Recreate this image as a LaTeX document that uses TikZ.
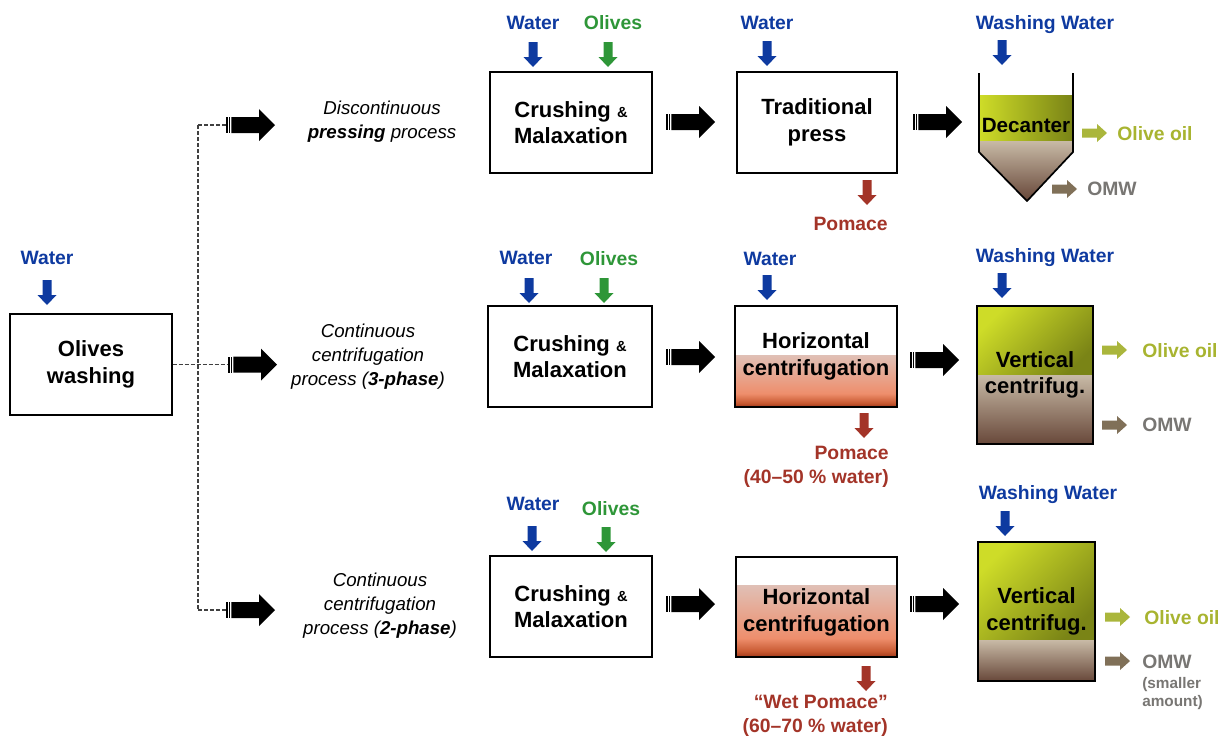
\documentclass[tikz,border=0pt]{standalone}
\usepackage{fontspec}
\setmainfont{Liberation Sans}
\usetikzlibrary{calc}
\definecolor{wblue}{RGB}{14,58,160}
\definecolor{ogreen}{RGB}{46,150,56}
\definecolor{pred}{RGB}{163,52,40}
\definecolor{oiltxt}{RGB}{168,180,48}
\definecolor{oilarr}{RGB}{170,182,60}
\definecolor{omwtxt}{RGB}{120,118,115}
\definecolor{omwarr}{RGB}{128,112,88}
\definecolor{oliveL}{RGB}{206,220,40}
\definecolor{oliveD}{RGB}{122,132,22}
\definecolor{brownL}{RGB}{200,186,166}
\definecolor{brownM}{RGB}{150,122,108}
\definecolor{brownD}{RGB}{104,72,58}
\definecolor{hcT}{RGB}{224,192,182}
\definecolor{hcM}{RGB}{238,142,108}
\definecolor{hcN}{RGB}{200,90,50}
\definecolor{hcB}{RGB}{160,56,26}
\pgfdeclareverticalshading{hcshade}{100bp}{color(0bp)=(hcB); color(25bp)=(hcB); color(29bp)=(hcN); color(38bp)=(hcM); color(75bp)=(hcT); color(100bp)=(hcT)}
\tikzset{
  lbl/.style={font=\fontsize{14.5}{17}\selectfont\bfseries, inner sep=0pt},
  proc/.style={font=\fontsize{14}{18}\selectfont\itshape, align=center, inner sep=0pt},
  box/.style={draw=black, line width=1pt, align=center, inner sep=0pt, font=\fontsize{16.5}{20}\selectfont\bfseries},
  boxA/.style={box, minimum width=121.5pt, minimum height=75.75pt},
  dashline/.style={draw=black!75, line width=0.8pt, dash pattern=on 3pt off 1.5pt},
  pomtxt/.style={font=\fontsize{14.5}{18}\selectfont\bfseries, text=pred, align=right, inner sep=0pt},
  dnarrow/.pic={\fill[pic actions] (-4.5,0) -- (4.5,0) -- (4.5,15) -- (9.5,15) -- (0,25) -- (-9.5,15) -- (-4.5,15) -- cycle;},
  rtarrow/.pic={\fill[pic actions] (0,-4.5) -- (15,-4.5) -- (15,-9) -- (25,0) -- (15,9) -- (15,4.5) -- (0,4.5) -- cycle;},
  bigarrow/.pic={\fill (0,-8) rectangle (1.5,8); \fill (2.7,-8) rectangle (4.2,8);
     \fill (5.4,-8) -- (33,-8) -- (33,-16) -- (49,0) -- (33,16) -- (33,8) -- (5.4,8) -- cycle;}
}
\newcommand\amp{{\fontsize{11}{12}\selectfont\&}}
\begin{document}
\begin{tikzpicture}[x=0.75pt,y=-0.75pt]
\useasboundingbox (0,0) rectangle (1227,740);

% ---------- shaded fills ----------
\shade[left color=oliveL,right color=oliveD] (980,95) rectangle (1072,141);
\shade[top color=brownL,bottom color=brownD] (980,141) -- (1072,141) -- (1072,152) -- (1027,200) -- (980,152) -- cycle;
\shade[shading=hcshade] (735,355) rectangle (897,407);
\shade[shading=hcshade] (736,585) rectangle (897,657);
\shade[top color=oliveL,bottom color=oliveD,shading angle=45] (977,306) rectangle (1093,375);
\shade[top color=brownL,middle color=brownM,bottom color=brownD] (977,375) rectangle (1093,444);
\shade[top color=oliveL,bottom color=oliveD,shading angle=45] (978,542) rectangle (1095,640);
\shade[top color=brownL,bottom color=brownD] (978,640) rectangle (1095,681);

% ---------- left part ----------
\node[lbl, text=wblue] (w0) at (47,258) {Water};
\pic[fill=wblue] at (47,280) {dnarrow};
\node[boxA] (ow) at (91,364.5) {Olives\\washing};
\coordinate (split) at (198,364.5);
\coordinate (a1) at (226,125);
\coordinate (a2) at (228,364.5);
\coordinate (a3) at (226,610);
\draw[dashline] (ow.east) -- (a2);
\draw[dashline] (split |- a1) -- (split |- a3);
\draw[dashline] (split |- a1) -- (a1);
\draw[dashline] (split |- a3) -- (a3);
\pic at (a1) {bigarrow};
\pic at (a2) {bigarrow};
\pic at (a3) {bigarrow};

\node[proc] (p1) at (382,122) {Discontinuous\\\textbf{pressing} process};
\node[proc] (p2) at (368,357) {Continuous\\centrifugation\\process (\textbf{3-phase})};
\node[proc] (p3) at (380,606) {Continuous\\centrifugation\\process (\textbf{2-phase})};

% ---------- row 1 ----------
\node[lbl, text=wblue] (w1) at (533,23) {Water};
\node[lbl, text=ogreen] (o1) at (613,23) {Olives};
\pic[fill=wblue] at (533,42) {dnarrow};
\pic[fill=ogreen] at (608,42) {dnarrow};
\node[boxA] (cm1) at (571,122.5) {Crushing \amp\\Malaxation};
\pic at (666,122) {bigarrow};
\node[lbl, text=wblue] (w1b) at (767,23) {Water};
\pic[fill=wblue] at (767,41) {dnarrow};
\node[box, minimum width=120pt, minimum height=75.75pt] (tp) at (817,122.5) {Traditional\\press};
\pic[fill=pred] at (867,180) {dnarrow};
\node[pomtxt, anchor=east] (pom1) at (888,224) {Pomace};
\pic at (913,122) {bigarrow};
\node[lbl, text=wblue] (ww1) at (1045,25) {Washing Water};
\pic[fill=wblue] at (1002,40) {dnarrow};
\draw[line width=1.3pt, line join=round] (979,73) -- (979,152) -- (1027,201) -- (1073,152) -- (1073,73);
\node[font=\fontsize{15.5}{18}\selectfont\bfseries, inner sep=0pt] (dec) at (1026,125) {Decanter};
\pic[fill=oilarr] at (1082,133) {rtarrow};
\node[lbl, text=oiltxt] (oil1) at (1155,134) {Olive oil};
\pic[fill=omwarr] at (1052,189) {rtarrow};
\node[lbl, text=omwtxt] (omw1) at (1112,189) {OMW};

% ---------- row 2 ----------
\node[lbl, text=wblue] (w2) at (526,258) {Water};
\node[lbl, text=ogreen] (o2) at (609,259) {Olives};
\pic[fill=wblue] at (529,278) {dnarrow};
\pic[fill=ogreen] at (604,278) {dnarrow};
\node[box, minimum width=123pt, minimum height=75.75pt] (cm2) at (570,356.5) {Crushing \amp\\Malaxation};
\pic at (666,357) {bigarrow};
\node[lbl, text=wblue] (w2b) at (770,259) {Water};
\pic[fill=wblue] at (767,275) {dnarrow};
\node[boxA] (hc2) at (816,356.5) {Horizontal\\centrifugation};
\pic[fill=pred] at (864,413) {dnarrow};
\node[pomtxt, anchor=east] (pom2) at (889,467) {Pomace\\(40--50 \% water)};
\pic at (910,360) {bigarrow};
\node[lbl, text=wblue] (ww2) at (1045,258) {Washing Water};
\pic[fill=wblue] at (1002,273) {dnarrow};
\node[box, minimum width=87pt, minimum height=103.5pt] (vc2) at (1035,375) {Vertical\\centrifug.};
\pic[fill=oilarr] at (1102,350) {rtarrow};
\node[lbl, text=oiltxt] (oil2) at (1180,351) {Olive oil};
\pic[fill=omwarr] at (1102,425) {rtarrow};
\node[lbl, text=omwtxt] (omw2) at (1167,425) {OMW};

% ---------- row 3 ----------
\node[lbl, text=wblue] (w3) at (533,504) {Water};
\node[lbl, text=ogreen] (o3) at (611,509) {Olives};
\pic[fill=wblue] at (532,526) {dnarrow};
\pic[fill=ogreen] at (606,527) {dnarrow};
\node[boxA] (cm3) at (571,606.5) {Crushing \amp\\Malaxation};
\pic at (666,604) {bigarrow};
\node[box, minimum width=120.75pt, minimum height=75pt] (hc3) at (816.5,607) {};
\node[font=\fontsize{16.5}{20}\selectfont\bfseries, align=center, inner sep=0pt] (hc3t) at (816.5,612.5) {Horizontal\\centrifugation};
\pic[fill=pred] at (866,666) {dnarrow};
\node[pomtxt, anchor=east] (pom3) at (888,716) {``Wet Pomace''\\(60--70 \% water)};
\pic at (910,604) {bigarrow};
\node[lbl, text=wblue] (ww3) at (1048,495) {Washing Water};
\pic[fill=wblue] at (1005,511) {dnarrow};
\node[box, minimum width=87.75pt, minimum height=104.25pt] (vc3) at (1036.5,611.5) {Vertical\\centrifug.};
\pic[fill=oilarr] at (1105,617) {rtarrow};
\node[lbl, text=oiltxt] (oil3) at (1182,618) {Olive oil};
\pic[fill=omwarr] at (1105,661) {rtarrow};
\node[lbl, text=omwtxt, anchor=west] (omw3) at (1142,662) {OMW};
\node[font=\fontsize{11.5}{13.5}\selectfont\bfseries, text=omwtxt, align=left, inner sep=0pt, anchor=west] (sm3) at (1142,694) {(smaller\\amount)};
\end{tikzpicture}
\end{document}
